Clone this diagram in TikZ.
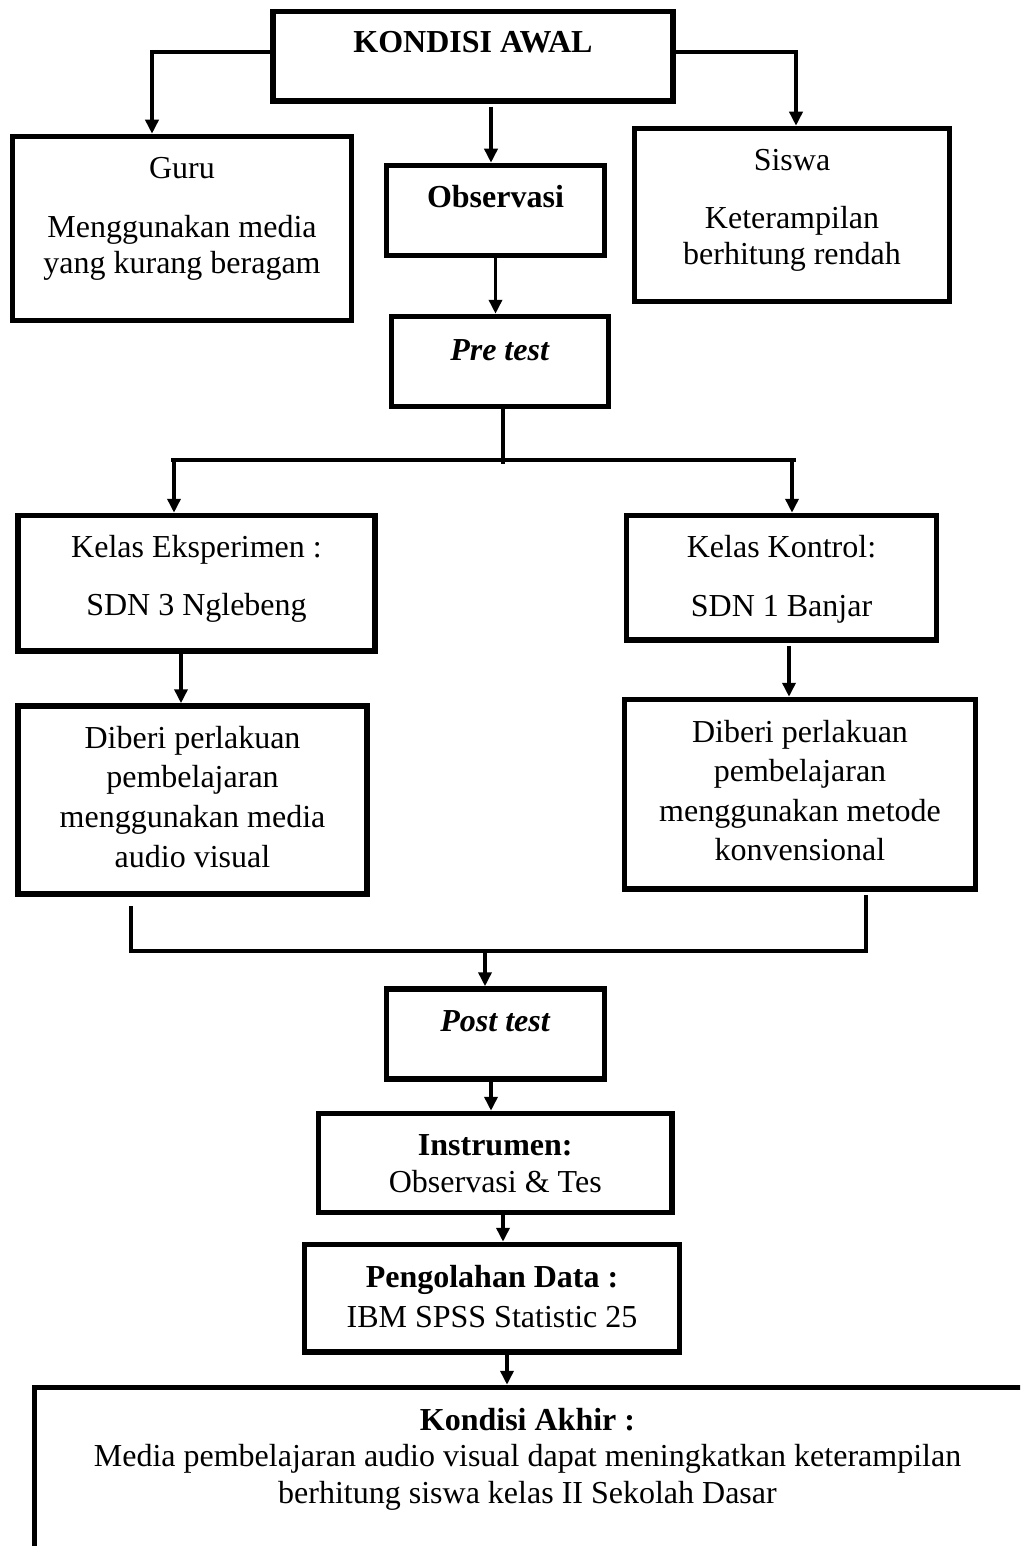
\documentclass[tikz,border=0pt]{standalone}
\usepackage{fontspec}
\setmainfont{Liberation Serif}
\usetikzlibrary{arrows.meta}
\tikzset{
  box/.style={draw, line width=5.5pt, inner sep=0pt, rectangle},
  txt/.style={anchor=base, inner sep=0pt, font=\fontsize{32}{38}\selectfont},
  arr/.style={line width=3.5pt, -{Triangle[width=13pt,length=14pt]}},
  ln/.style={line width=3.5pt}
}
\begin{document}
\begin{tikzpicture}[x=1pt,y=-1pt]
\useasboundingbox (0,0) rectangle (1020,1546);
% boxes
\node[box, minimum width=400pt, minimum height=89.5pt] (kaw) at (473,56.25) {};
\node[box, minimum width=339pt, minimum height=184pt] (guru) at (182,228.5) {};
\node[box, minimum width=218pt, minimum height=90pt] (obs) at (495.5,210.5) {};
\node[box, minimum width=315pt, minimum height=173pt] (siswa) at (792,215) {};
\node[box, minimum width=217pt, minimum height=90pt] (pre) at (500,361.5) {};
\node[box, minimum width=357pt, minimum height=135.5pt] (ke) at (196.5,583.25) {};
\node[box, minimum width=310pt, minimum height=124.5pt] (kk) at (781.5,577.75) {};
\node[box, minimum width=349pt, minimum height=188pt] (dl) at (192.5,800) {};
\node[box, minimum width=351pt, minimum height=189.5pt] (dr) at (800,794.25) {};
\node[box, minimum width=218pt, minimum height=90pt] (pt) at (495.5,1034) {};
\node[box, minimum width=353.5pt, minimum height=99pt] (ins) at (495.25,1163) {};
\node[box, minimum width=375pt, minimum height=107.5pt] (pg) at (492,1298.25) {};
\begin{scope}
\clip (0,0) rectangle (1020,1546);
\node[box, minimum width=1005.5pt, minimum height=182.5pt] (ka) at (537.25,1478.75) {};
\end{scope}
% texts
\node[txt] (t1) at (473,53) {\textbf{KONDISI AWAL}};
\node[txt] (t2) at (182,179) {Guru};
\node[txt] (t3) at (182,237) {Menggunakan media};
\node[txt] (t4) at (182,273) {yang kurang beragam};
\node[txt] (t5) at (495.5,208) {\textbf{Observasi}};
\node[txt] (t6) at (792,171) {Siswa};
\node[txt] (t7) at (792,229) {Keterampilan};
\node[txt] (t8) at (792,265) {berhitung rendah};
\node[txt] (t9) at (500,360) {\textbf{\textit{Pre test}}};
\node[txt] (t10) at (196.5,557) {Kelas Eksperimen :};
\node[txt] (t11) at (196.5,615) {SDN 3 Nglebeng};
\node[txt] (t12) at (781.5,557) {Kelas Kontrol:};
\node[txt] (t13) at (781.5,616) {SDN 1 Banjar};
\node[txt] (t14) at (192.5,748) {Diberi perlakuan};
\node[txt] (t15) at (192.5,787) {pembelajaran};
\node[txt] (t16) at (192.5,827) {menggunakan media};
\node[txt] (t17) at (192.5,867) {audio visual};
\node[txt] (t18) at (800,742) {Diberi perlakuan};
\node[txt] (t19) at (800,781) {pembelajaran};
\node[txt] (t20) at (800,821) {menggunakan metode};
\node[txt] (t21) at (800,860) {konvensional};
\node[txt] (t22) at (495.5,1031) {\textbf{\textit{Post test}}};
\node[txt] (t23) at (495.25,1155) {\textbf{Instrumen:}};
\node[txt] (t24) at (495.25,1192) {Observasi \& Tes};
\node[txt] (t25) at (492,1287) {\textbf{Pengolahan Data :}};
\node[txt] (t26) at (492,1327) {IBM SPSS Statistic 25};
\node[txt] (t27) at (527.5,1430) {\textbf{Kondisi Akhir :}};
\node[txt] (t28) at (527.5,1466) {Media pembelajaran audio visual dapat meningkatkan keterampilan};
\node[txt] (t29) at (527.5,1503) {berhitung siswa kelas II Sekolah Dasar};
% connectors
\draw[arr] ([yshift=4pt]kaw.west) -| ([xshift=-30pt]guru.north);
\draw[arr] ([xshift=18pt,yshift=-3pt]kaw.south) -- ([xshift=18pt]kaw.south |- obs.north);
\draw[arr] ([yshift=4pt]kaw.east) -| ([xshift=4pt]siswa.north);
\draw[arr] (obs.south) -- (obs.south |- pre.north);
\coordinate (hl) at (171,460);
\coordinate (hr) at (796,460);
\coordinate (pjoin) at (503,464);
\draw[ln] (hl) -- (hr);
\draw[ln] ([xshift=3pt]pre.south) -- (pjoin);
\draw[arr] ([xshift=-22.5pt]ke.north |- hl) -- ([xshift=-22.5pt]ke.north);
\draw[arr] ([xshift=10.5pt]kk.north |- hr) -- ([xshift=10.5pt]kk.north);
\draw[arr] ([xshift=-15.5pt]ke.south) -- ([xshift=-15.5pt]ke.south |- dl.north);
\draw[arr] ([xshift=7.5pt,yshift=-3pt]kk.south) -- ([xshift=7.5pt]kk.south |- dr.north);
\coordinate (mrg) at (485,951);
\draw[ln] ([xshift=-61.5pt,yshift=-9pt]dl.south) |- (mrg) -| ([xshift=66pt,yshift=-3pt]dr.south);
\draw[arr] (mrg) -- (mrg |- pt.north);
\draw[arr] ([xshift=-4.5pt]pt.south) -- ([xshift=-4.5pt]pt.south |- ins.north);
\draw[arr] ([xshift=7.75pt]ins.south) -- ([xshift=7.75pt]ins.south |- pg.north);
\draw[arr] ([xshift=15pt]pg.south) -- ([xshift=15pt]pg.south |- ka.north);
\end{tikzpicture}
\end{document}
